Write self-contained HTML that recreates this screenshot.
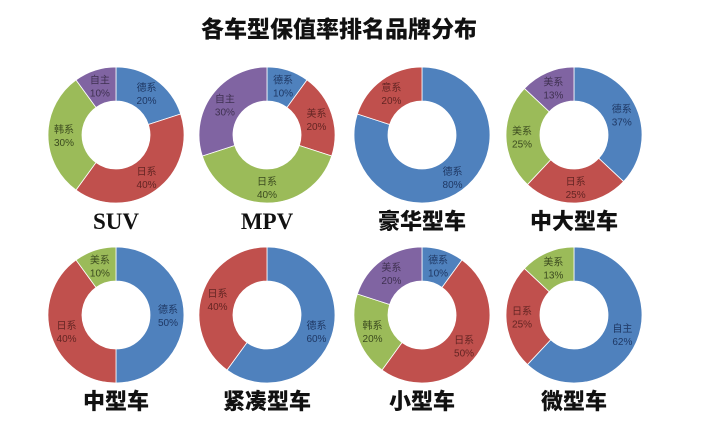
<!DOCTYPE html>
<html><head><meta charset="utf-8"><style>
html,body{margin:0;padding:0;background:#fff;}
svg{display:block;}
</style></head><body>
<svg id="chart" width="703" height="437" viewBox="0 0 703 437" xmlns="http://www.w3.org/2000/svg">
<rect width="703" height="437" fill="#fff"/>
<text x="339" y="37" text-anchor="middle" font-family="Liberation Sans, Noto Sans CJK SC, sans-serif" font-weight="900" font-size="23" fill="#111">各车型保值率排名品牌分布</text>
</svg>
<script>
const chartNames = ["SUV","MPV","豪华型车","中大型车","中型车","紧凑型车","小型车","微型车"];
const segLabels = [
 ["德系","日系","韩系","自主"],
 ["德系","美系","日系","自主"],
 ["德系","意系"],
 ["德系","日系","美系","美系"],
 ["德系","日系","美系"],
 ["德系","日系"],
 ["德系","日系","韩系","美系"],
 ["自主","日系","美系"]
];
const segValues = [
 [20,40,30,10],
 [10,20,40,30],
 [80,20],
 [37,25,25,13],
 [50,40,10],
 [60,40],
 [10,50,20,20],
 [62,25,13]
];
const segColors = [
 ["b","r","g","p"],["b","r","g","p"],["b","r"],["b","r","g","p"],
 ["b","r","g"],["b","r"],["b","r","g","p"],["b","r","g"]
];
const fills={b:"#4f81bd",r:"#c0504d",g:"#9bbb59",p:"#8064a2"};
const txt={b:"#1f3864",r:"#632523",g:"#3b4a1f",p:"#3f3151"};
const centersX=[116,267,422,574];
const centersY=[135,315];
const R=68, RI=34;
const svg=document.getElementById('chart');
const NS="http://www.w3.org/2000/svg";
function pt(cx,cy,r,a){return [cx+r*Math.sin(a), cy-r*Math.cos(a)];}
for(let i=0;i<8;i++){
  const cx=centersX[i%4], cy=centersY[Math.floor(i/4)];
  const vals=segValues[i], tot=vals.reduce((a,b)=>a+b,0);
  const g=document.createElementNS(NS,'g');
  
  
  svg.appendChild(g);
  let acc=0;
  vals.forEach((v,j)=>{
    const a0=acc/tot*2*Math.PI, a1=(acc+v)/tot*2*Math.PI; acc+=v;
    const large=(a1-a0)>Math.PI?1:0;
    const p0=pt(cx,cy,R,a0),p1=pt(cx,cy,R,a1),q1=pt(cx,cy,RI,a1),q0=pt(cx,cy,RI,a0);
    const path=document.createElementNS(NS,'path');
    path.setAttribute('d',`M${p0[0]},${p0[1]}A${R},${R} 0 ${large} 1 ${p1[0]},${p1[1]}L${q1[0]},${q1[1]}A${RI},${RI} 0 ${large} 0 ${q0[0]},${q0[1]}Z`);
    path.setAttribute('fill',fills[segColors[i][j]]);
    path.setAttribute('stroke','#fff');
    path.setAttribute('stroke-width','0.8');
    
    
    g.appendChild(path);
    const am=(a0+a1)/2, lp=pt(cx,cy,(R+RI)/2+1,am);
    const t=document.createElementNS(NS,'text');
    t.setAttribute('x',lp[0]); t.setAttribute('y',lp[1]-2);
    t.setAttribute('text-anchor','middle');
    t.setAttribute('font-family','Liberation Sans, Noto Sans CJK SC, sans-serif');
    t.setAttribute('font-size','10');
    t.setAttribute('fill',txt[segColors[i][j]]);
    
    
    t.textContent=segLabels[i][j];
    g.appendChild(t);
    const t2=document.createElementNS(NS,'text');
    t2.setAttribute('x',lp[0]); t2.setAttribute('y',lp[1]+11);
    t2.setAttribute('text-anchor','middle');
    t2.setAttribute('font-family','Liberation Sans, sans-serif');
    t2.setAttribute('font-size','10');
    t2.setAttribute('fill',txt[segColors[i][j]]);
    
    
    t2.textContent=v+'%';
    g.appendChild(t2);
  });
  const cap=document.createElementNS(NS,'text');
  cap.setAttribute('x',cx); cap.setAttribute('y',cy+R+26);
  cap.setAttribute('text-anchor','middle');
  const latin=/^[A-Z]+$/.test(chartNames[i]);
  cap.setAttribute('font-family',latin?'Liberation Serif, serif':'Liberation Sans, Noto Sans CJK SC, sans-serif');
  cap.setAttribute('font-weight','900');
  cap.setAttribute('font-size',latin?'23':'22');
  cap.setAttribute('fill','#111');
  
  
  cap.textContent=chartNames[i];
  g.appendChild(cap);
}
</script>
</body></html>
